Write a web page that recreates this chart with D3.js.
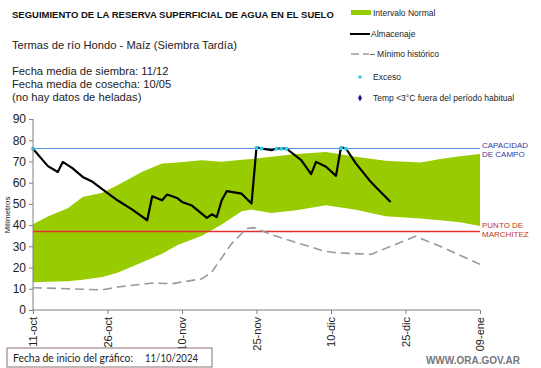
<!DOCTYPE html>
<html><head><meta charset="utf-8">
<script src="https://cdn.jsdelivr.net/npm/d3@7"></script>
<style>
body{margin:0;background:#fff;}
svg{display:block;font-family:"Liberation Sans",Arial,sans-serif;}
</style></head>
<body><svg id="c" width="541" height="368"></svg>
<script>
// ---- data (days counted from 11-oct-2024) ----
const startDate = new Date(2024, 9, 11);
const tickDays = [0, 15, 30, 45, 60, 75, 90];
const tickLabels = ["11-oct", "26-oct", "10-nov", "25-nov", "10-dic", "25-dic", "09-ene"];
const yTicks = [0, 10, 20, 30, 40, 50, 60, 70, 80, 90];

const bandDays  = [0, 3, 7, 10, 14, 17, 22, 26, 29, 34, 38, 42, 44, 48, 53, 59, 65, 71, 78, 82, 86, 90];
const bandUpper = [40.4, 44, 48, 53.3, 55.2, 58.8, 65.1, 69.0, 69.5, 70.6, 69.8, 70.8, 71.2, 72.2, 73.5, 74.5, 72.2, 70.3, 69.5, 71.1, 72.5, 73.5];
const bandLower = [13.1, 13.3, 13.5, 14.3, 15.5, 17.5, 22.5, 26.5, 30.5, 35, 40.3, 46.5, 47.3, 45.7, 47.0, 49.4, 47.2, 44.2, 43.1, 42.3, 41.3, 39.6];

const minDays   = [0, 7, 14, 17, 24, 28, 34, 36, 40, 43, 44.5, 48, 58.5, 61, 68, 77, 82, 90];
const minValues = [10.5, 10.0, 9.5, 10.8, 12.7, 12.4, 14.7, 17.9, 31.3, 38.4, 38.8, 35.5, 27.8, 27.0, 26.2, 34.7, 30.0, 21.5];

const storDays   = [0, 2, 3, 5, 6, 8, 10, 12, 14, 17, 20, 23, 24, 26, 27, 29, 30, 32, 35, 36, 37, 38, 39, 42, 44, 45, 46, 48, 49, 51, 54, 56, 57, 59, 61, 62, 63, 65, 68, 69, 72];
const storValues = [76, 70.5, 67.8, 65, 69.8, 66.7, 62.7, 60.4, 56.8, 51.7, 47.3, 42.3, 53.6, 51.7, 54.4, 52.8, 50.9, 49.2, 43.4, 45.1, 43.8, 51.7, 56, 54.8, 50.2, 76.6, 76.1, 75.3, 76.1, 76.1, 70.6, 64.0, 69.8, 67.5, 63.2, 76.6, 76.1, 69.1, 60.4, 58.0, 50.9];

const excessDays   = [0, 45, 46, 49, 50, 51, 62, 63];
const excessValues = [76, 76.3, 76.1, 76, 76, 76, 76.3, 76];

const fieldCapacity = 76;
const wiltingPoint = 37;

// ---- layout ----
const svg = d3.select("#c");
const dayToDate = d => d3.timeHour.offset(startDate, d * 24);
const x = d3.scaleTime().domain([startDate, dayToDate(90)]).range([33, 480]);
const y = d3.scaleLinear().domain([0, 90]).range([310, 119]);

// band
const bandData = bandDays.map((d, i) => ({d, lo: bandLower[i], hi: bandUpper[i]}));
svg.append("path").datum(bandData)
  .attr("fill", "#99cc00")
  .attr("d", d3.area().x(p => x(dayToDate(p.d))).y0(p => y(p.lo)).y1(p => y(p.hi)));

// reference lines (snapped to pixel centres)
const snap = v => Math.floor(v) + 0.5;
svg.append("line").attr("x1", x(dayToDate(0))).attr("x2", x(dayToDate(90)))
  .attr("y1", snap(y(fieldCapacity))).attr("y2", snap(y(fieldCapacity)))
  .attr("stroke", "#5b8fe0").attr("stroke-width", 1.2);
svg.append("line").attr("x1", x(dayToDate(0))).attr("x2", x(dayToDate(90)))
  .attr("y1", snap(y(wiltingPoint))).attr("y2", snap(y(wiltingPoint)))
  .attr("stroke", "#e03030").attr("stroke-width", 1.5);

// min historic
const minData = minDays.map((d, i) => ({d, v: minValues[i]}));
svg.append("path").datum(minData)
  .attr("fill", "none").attr("stroke", "#999").attr("stroke-width", 1.6)
  .attr("stroke-dasharray", "9,5")
  .attr("d", d3.line().x(p => x(dayToDate(p.d))).y(p => y(p.v)));

// storage
const storData = storDays.map((d, i) => ({d, v: storValues[i]}));
svg.append("path").datum(storData)
  .attr("fill", "none").attr("stroke", "#000").attr("stroke-width", 2.2)
  .attr("stroke-linejoin", "round")
  .attr("d", d3.line().x(p => x(dayToDate(p.d))).y(p => y(p.v)));

// excess markers
svg.selectAll("circle.ex").data(excessDays.map((d, i) => ({d, v: excessValues[i]})))
  .enter().append("circle").attr("class", "ex")
  .attr("cx", p => x(dayToDate(p.d))).attr("cy", p => y(p.v)).attr("r", 2)
  .attr("fill", "#33ccee");

// axes
const yAxis = svg.append("g").attr("transform", "translate(33,0)")
  .call(d3.axisLeft(y).tickValues(yTicks).tickSize(4).tickPadding(3));
yAxis.selectAll("text").attr("font-size", 12).attr("fill", "#222").attr("font-family", "Liberation Sans, Arial");
yAxis.selectAll("line,path").attr("stroke", "#808080");
yAxis.select("path").attr("d", `M0,${y(90)}V${y(0)}`);

const xAxis = svg.append("g").attr("transform", `translate(0,${y(0)})`)
  .call(d3.axisBottom(x).tickValues(tickDays.map(dayToDate)).tickSize(4)
        .tickFormat((d, i) => tickLabels[i]));
xAxis.selectAll("line,path").attr("stroke", "#808080");
xAxis.select("path").attr("d", `M${x(dayToDate(0))},0H${x(dayToDate(90))}`);
xAxis.selectAll("text").attr("font-size", 11).attr("fill", "#222")
  .attr("font-family", "Liberation Sans, Arial")
  .attr("transform", "rotate(-90)").attr("text-anchor", "end")
  .attr("x", -7).attr("y", 0).attr("dy", "0.35em");

svg.append("text").attr("transform", "translate(10,215) rotate(-90)")
  .attr("text-anchor", "middle").attr("font-size", 8).attr("fill", "#222").text("Milímetros");

// reference labels
svg.append("text").attr("x", 482).attr("y", 148).attr("font-size", 8).attr("fill", "#3a3aa0").text("CAPACIDAD");
svg.append("text").attr("x", 482).attr("y", 157).attr("font-size", 8).attr("fill", "#3a3aa0").text("DE  CAMPO");
svg.append("text").attr("x", 482).attr("y", 228).attr("font-size", 8).attr("fill", "#c0392b").text("PUNTO  DE");
svg.append("text").attr("x", 482).attr("y", 237).attr("font-size", 8).attr("fill", "#c0392b").text("MARCHITEZ");

// titles
svg.append("text").attr("x", 12).attr("y", 18).attr("font-size", 9.5).attr("font-weight", "bold")
  .attr("fill", "#111").text("SEGUIMIENTO DE LA RESERVA  SUPERFICIAL DE AGUA EN EL SUELO");
const info = [["Termas de río Hondo - Maíz  (Siembra Tardía)", 49], ["Fecha media de siembra: 11/12", 75],
              ["Fecha media de cosecha: 10/05", 88], ["(no hay  datos de heladas)", 101]];
info.forEach(([t, yy]) => svg.append("text").attr("x", 12).attr("y", yy).attr("font-size", 11.2)
  .attr("fill", "#222").text(t));

// legend
const lg = svg.append("g").attr("font-size", 8.5).attr("fill", "#222");
lg.append("rect").attr("x", 351).attr("y", 10).attr("width", 20).attr("height", 5).attr("fill", "#99cc00");
lg.append("text").attr("x", 373).attr("y", 16).text("Intervalo Normal");
lg.append("line").attr("x1", 350).attr("x2", 370).attr("y1", 34).attr("y2", 34).attr("stroke", "#000").attr("stroke-width", 2);
lg.append("text").attr("x", 371).attr("y", 37).text("Almacenaje");
lg.append("line").attr("x1", 351).attr("x2", 369).attr("y1", 54).attr("y2", 54).attr("stroke", "#999").attr("stroke-width", 1.5).attr("stroke-dasharray", "8,4");
lg.append("text").attr("x", 370).attr("y", 57).text("– Mínimo histórico");
lg.append("circle").attr("cx", 360).attr("cy", 77).attr("r", 1.8).attr("fill", "#33ccee");
lg.append("text").attr("x", 373).attr("y", 80).text("Exceso");
lg.append("path").attr("d", d3.symbol(d3.symbolDiamond, 14)()).attr("transform", "translate(360,98)").attr("fill", "#1a1a99");
lg.append("text").attr("x", 373).attr("y", 101).text("Temp <3°C fuera del período habitual");

// footer
svg.append("rect").attr("x", 7).attr("y", 348).attr("width", 205).attr("height", 19)
  .attr("fill", "#fff").attr("stroke", "#8a7070").attr("stroke-width", 1);
svg.append("text").attr("x", 13).attr("y", 362).attr("font-size", 11.5).attr("font-family", "Lato, sans-serif")
  .attr("textLength", 120).attr("lengthAdjust", "spacingAndGlyphs")
  .attr("fill", "#222").text("Fecha de inicio del gráfico:");
svg.append("text").attr("x", 145).attr("y", 362).attr("font-size", 11.5).attr("font-family", "Lato, sans-serif")
  .attr("textLength", 53).attr("lengthAdjust", "spacingAndGlyphs")
  .attr("fill", "#222").text("11/10/2024");
svg.append("text").attr("x", 520).attr("y", 364).attr("text-anchor", "end").attr("font-size", 10)
  .attr("font-weight", "bold").attr("fill", "#777").text("WWW.ORA.GOV.AR");
</script></body></html>
